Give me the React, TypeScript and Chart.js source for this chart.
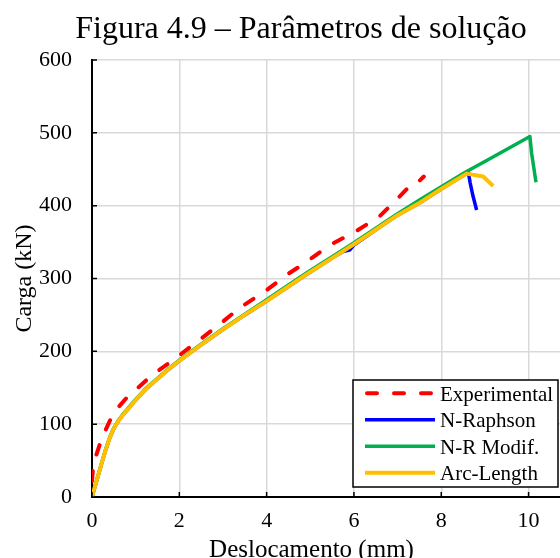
import React, { useEffect, useRef } from 'react';
import { Chart, registerables } from 'chart.js';

Chart.register(...registerables);

const FONT = '"Liberation Serif", "Times New Roman", Times, serif';

const TITLE = 'Figura 4.9 – Parâmetros de solução';
const X_TITLE = 'Deslocamento (mm)';
const Y_TITLE = 'Carga (kN)';
const X_TICKS = [0, 2, 4, 6, 8, 10];
const Y_TICKS = [0, 100, 200, 300, 400, 500, 600];
const LEGEND_ORDER = ['Experimental', 'N-Raphson', 'N-R Modif.', 'Arc-Length'];

// Experimental (red dashed)
const expX = [0, 0.03, 0.1, 0.22, 0.35, 0.45, 0.6, 0.79, 1.0, 1.33, 1.6, 1.86, 2.25, 2.86, 3.39, 4.0, 4.46, 4.92, 5.45, 6.05, 6.58, 7.02, 7.36, 7.48, 7.6];
const expY = [22, 46, 58, 80, 97, 110, 123, 136, 147, 165, 177, 188, 206, 234, 260, 284, 305, 323, 346, 365, 385, 411, 432, 433, 440];

// N-Raphson (blue)
const nrX = [0, 0.1, 0.2, 0.3, 0.4, 0.5, 0.6, 0.7, 0.8, 0.9, 1.0, 1.25, 1.5, 1.75, 2.0, 2.5, 3.0, 3.5, 4.0, 4.5, 5.0, 5.5, 5.75, 5.9, 6.0, 6.6, 7.0, 7.51, 8.0, 8.62, 8.66, 8.72, 8.81];
const nrY = [0, 21, 42, 62, 80, 94, 104, 112, 119, 126, 133, 149, 162, 175, 187, 209, 230, 250, 269, 289, 309, 328, 337, 339, 346, 371, 387, 404, 423, 446, 432, 415, 394];

// N-R Modif. (green)
const nrmX = [0, 0.1, 0.2, 0.3, 0.4, 0.5, 0.6, 0.7, 0.8, 0.9, 1.0, 1.25, 1.5, 1.75, 2.0, 2.5, 3.0, 3.5, 4.0, 4.5, 5.0, 5.5, 6.0, 6.5, 7.0, 7.51, 8.0, 8.58, 9.04, 10.03, 10.07, 10.17];
const nrmY = [0, 21, 42, 63, 81, 95, 105, 113, 120, 127, 134, 150, 163, 176, 188, 210, 231, 251, 271, 291, 311, 330, 349, 369, 389, 408, 426, 447, 462, 495, 472, 432];

// Arc-Length (yellow)
const alX = [0, 0.1, 0.2, 0.3, 0.4, 0.5, 0.6, 0.7, 0.8, 0.9, 1.0, 1.25, 1.5, 1.75, 2.0, 2.5, 3.0, 3.5, 4.0, 4.5, 5.0, 5.5, 6.0, 6.6, 7.0, 7.51, 8.0, 8.58, 8.96, 9.19];
const alY = [0, 21, 42, 62, 80, 94, 104, 112, 119, 126, 133, 149, 162, 175, 187, 209, 230, 250, 269, 289, 309, 328, 347, 371, 387, 404, 423, 444, 440, 427];

const toXY = (xs: number[], ys: number[]) => xs.map((x, i) => ({ x, y: ys[i] }));

const overlayPlugin = {
  id: 'overlay',
  afterDraw(chart: any) {
    const { ctx, chartArea, scales } = chart;
    ctx.save();
    // inner tick marks
    ctx.strokeStyle = '#000';
    ctx.lineWidth = 1.5;
    ctx.beginPath();
    Y_TICKS.forEach((v) => {
      const y = scales.y.getPixelForValue(v);
      ctx.moveTo(chartArea.left, y);
      ctx.lineTo(chartArea.left + 5, y);
    });
    X_TICKS.forEach((v) => {
      const x = scales.x.getPixelForValue(v);
      ctx.moveTo(x, chartArea.bottom);
      ctx.lineTo(x, chartArea.bottom - 5);
    });
    ctx.stroke();

    ctx.fillStyle = '#000';
    ctx.textAlign = 'center';
    ctx.textBaseline = 'alphabetic';
    // chart title
    ctx.font = `32px ${FONT}`;
    ctx.fillText(TITLE, 301, 37.5);
    // x axis title
    ctx.font = `25px ${FONT}`;
    ctx.fillText(X_TITLE, 311.5, 556.5);

    // legend box
    const bx = 353, by = 380, bw = 205, bh = 107;
    ctx.fillStyle = '#fff';
    ctx.fillRect(bx, by, bw, bh);
    ctx.strokeStyle = '#000';
    ctx.lineWidth = 1.5;
    ctx.strokeRect(bx, by, bw, bh);
    ctx.font = `21px ${FONT}`;
    ctx.textAlign = 'left';
    LEGEND_ORDER.forEach((name, i) => {
      const ds = chart.data.datasets.find((d: any) => d.label === name);
      const rowY = by + 13.3 + i * 26.5;
      ctx.save();
      ctx.strokeStyle = ds.borderColor;
      ctx.lineWidth = ds.borderWidth;
      ctx.lineCap = ds.borderDash ? 'round' : 'butt';
      ctx.setLineDash(ds.borderDash || []);
      ctx.beginPath();
      ctx.moveTo(ds.borderDash ? 367 : 365, rowY);
      ctx.lineTo(ds.borderDash ? 433 : 435, rowY);
      ctx.stroke();
      ctx.restore();
      ctx.fillStyle = '#000';
      ctx.fillText(name, 440, rowY + 7.4);
    });
    ctx.restore();
  },
};

export default function App() {
  const ref = useRef<HTMLCanvasElement | null>(null);

  useEffect(() => {
    if (!ref.current) return;
    const chart = new Chart(ref.current, {
      type: 'line',
      data: {
        datasets: [
          { label: 'Arc-Length', data: toXY(alX, alY), borderColor: '#ffc000', borderWidth: 4 },
          { label: 'N-R Modif.', data: toXY(nrmX, nrmY), borderColor: '#00b050', borderWidth: 3.5 },
          { label: 'N-Raphson', data: toXY(nrX, nrY), borderColor: '#0000ff', borderWidth: 3.5 },
          {
            label: 'Experimental',
            data: toXY(expX, expY),
            borderColor: '#ff0000',
            borderWidth: 4,
            borderDash: [10, 17],
            borderCapStyle: 'round',
          },
        ] as any,
      },
      options: {
        animation: false,
        responsive: false,
        elements: { point: { radius: 0 }, line: { tension: 0, fill: false, borderJoinStyle: 'round' } },
        layout: { padding: { top: 60, right: 0, bottom: 0, left: 0 } },
        plugins: {
          legend: { display: false },
          title: { display: false },
          tooltip: { enabled: false },
        },
        scales: {
          x: {
            type: 'linear',
            min: 0,
            max: 10.72,
            afterBuildTicks: (s: any) => {
              s.ticks = X_TICKS.map((v) => ({ value: v }));
            },
            afterFit: (s: any) => {
              s.height = 61;
            },
            ticks: { font: { family: FONT, size: 22 }, color: '#000', padding: 11, maxRotation: 0, autoSkip: false },
            grid: { color: '#d9d9d9', lineWidth: 1.5, drawTicks: false },
            border: { color: '#000', width: 2 },
            title: { display: false },
          },
          y: {
            type: 'linear',
            min: 0,
            max: 600,
            afterBuildTicks: (s: any) => {
              s.ticks = Y_TICKS.map((v) => ({ value: v }));
            },
            afterFit: (s: any) => {
              s.width = 92;
            },
            ticks: { font: { family: FONT, size: 22 }, color: '#000', padding: 20 },
            grid: { color: '#d9d9d9', lineWidth: 1.5, drawTicks: false },
            border: { color: '#000', width: 2 },
            title: {
              display: true,
              text: Y_TITLE,
              color: '#000',
              font: { family: FONT, size: 24 },
              padding: { top: 10, bottom: 0 },
            },
          },
        },
      } as any,
      plugins: [overlayPlugin],
    });
    return () => chart.destroy();
  }, []);

  return (
    <div style={{ position: 'absolute', left: 0, top: 0, width: 560, height: 558, background: '#fff' }}>
      <canvas ref={ref} width={560} height={558} style={{ display: 'block' }} />
    </div>
  );
}
